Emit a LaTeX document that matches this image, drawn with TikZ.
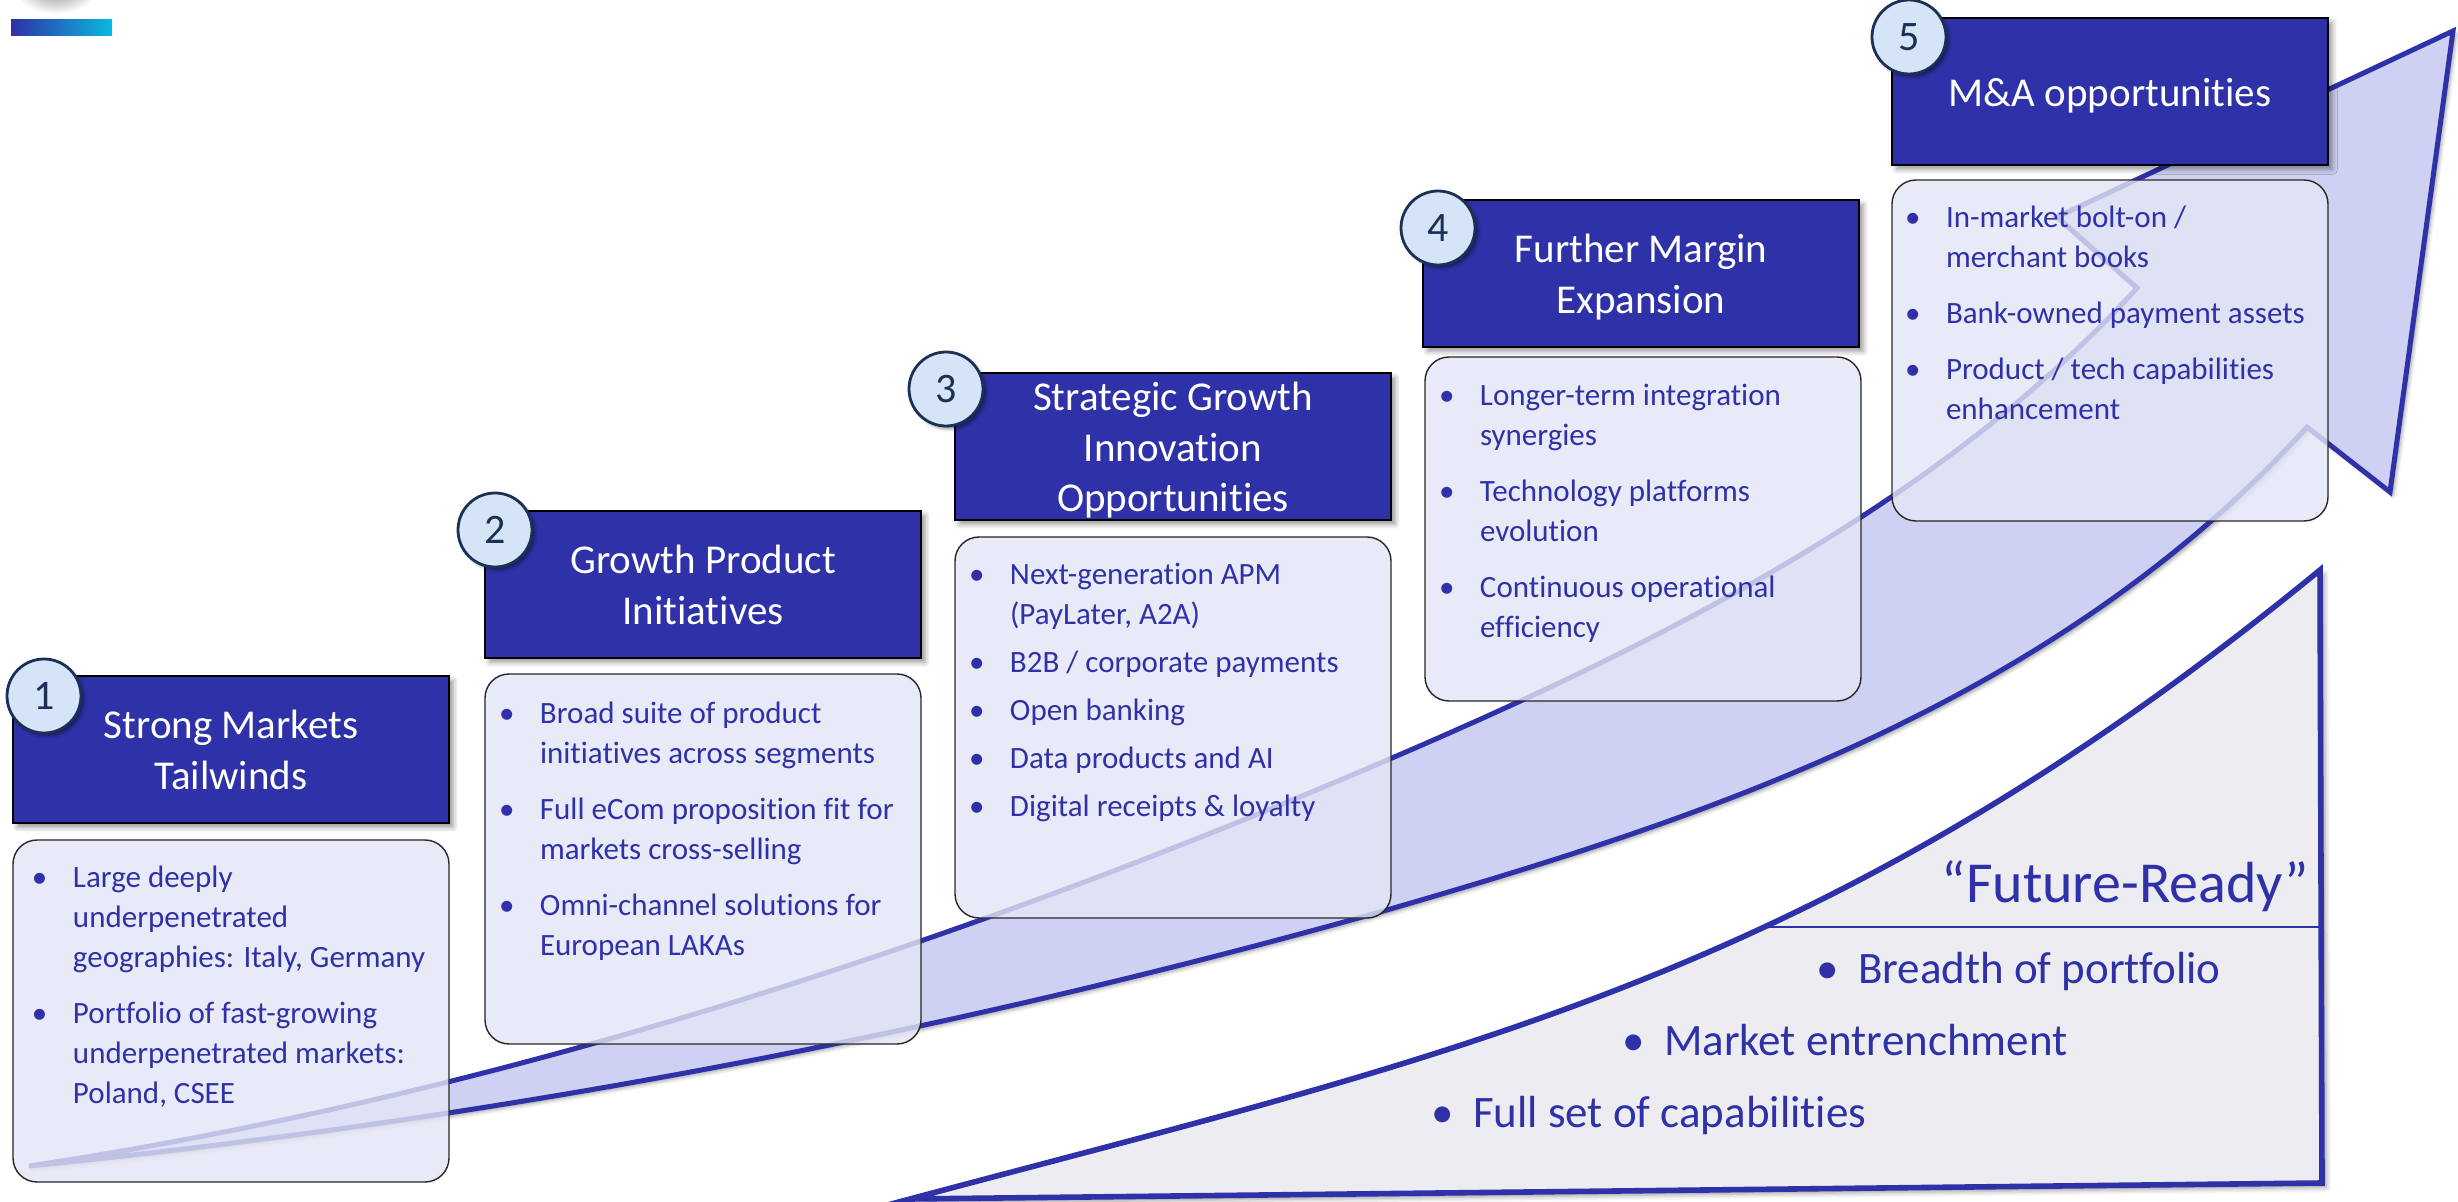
\documentclass[tikz,border=0pt]{standalone}
\usepackage{fontspec}
\setmainfont{Carlito}[Ligatures={TeX,NoCommon}]
\usetikzlibrary{shadows.blur}

\definecolor{brand}{RGB}{46,49,168}
\definecolor{bandfill}{RGB}{206,209,241}
\definecolor{cardfill}{RGB}{228,229,245}
\definecolor{numfill}{RGB}{214,228,247}
\definecolor{numline}{RGB}{27,48,84}
\definecolor{trifill}{RGB}{237,237,241}
\definecolor{cyanend}{RGB}{10,185,222}

% bullet lists inside the cards
\newlength\bulind
\setlength\bulind{20.5pt}
\newcommand\bitem[1]{\par\hangindent=\bulind\hangafter=1\noindent\makebox[\bulind][l]{\textbullet}#1}
\newcommand\cardtext[2]{\parbox[t]{240pt}{\raggedright\let\\\newline\fontsize{15.5pt}{20pt}\selectfont\setlength\parskip{#1}#2}}
\newcommand\headtext[1]{\parbox[t]{214pt}{\centering\fontsize{20.5pt}{25.25pt}\selectfont #1}}

\begin{document}
\begin{tikzpicture}[x=0.5pt,y=-0.5pt,
  every node/.style={inner sep=0pt,outer sep=0pt},
  softshadow/.style={blur shadow={shadow xshift=2.2pt,shadow yshift=-2.2pt,shadow blur radius=2.5pt,shadow opacity=40}},
  hdr/.style={draw=black,line width=0.8pt,fill=brand,minimum width=218pt,minimum height=73.5pt,anchor=north west,softshadow},
  card/.style={draw=black!85,line width=0.7pt,fill=cardfill,fill opacity=0.8,rounded corners=12pt,minimum width=218pt,anchor=north west},
  numdot/.style={circle,minimum size=37pt,fill=numfill,draw=numline,line width=1.4pt,text=numline,font=\fontsize{21pt}{21pt}\selectfont,
    blur shadow={shadow xshift=1.5pt,shadow yshift=-1.5pt,shadow blur radius=1.5pt,shadow opacity=45}},
  headlabel/.style={text=white,anchor=base},
  cardlabel/.style={text=brand,anchor=base west},
  trilabel/.style={text=brand,anchor=base west,font=\fontsize{22.5pt}{27pt}\selectfont}]

\useasboundingbox (0,0) rectangle (2458,1202);

% title decorations at the top edge
\shade[inner color=black!45,outer color=white] (56,-12) ellipse (42 and 26);
\shade[left color=brand,right color=cyanend] (11,20) rectangle (112,36);

% "Future-Ready" curved triangle
\path[draw=brand,line width=2.8pt,fill=trifill,line join=miter,softshadow]
  (910,1199) .. controls (1460,1052) and (1820,980) .. (2320,570) -- (2322,1183) -- cycle;
\begin{scope}
  \clip (910,1199) .. controls (1460,1052) and (1820,980) .. (2320,570) -- (2322,1183) -- cycle;
  \coordinate (divL) at (1650,927);
  \coordinate (divR) at (2330,927);
  \draw[brand,line width=1.1pt] (divL) -- (divR);
\end{scope}

% rising curved arrow
\path[draw=brand,line width=2.5pt,fill=bandfill,line join=miter,
      blur shadow={shadow xshift=1.6pt,shadow yshift=-1.6pt,shadow blur radius=2pt,shadow opacity=40}]
  (29,1166) .. controls (479,1098.5) and (942,951.5) .. (1392,758)
  .. controls (1642,650.5) and (1937,508) .. (2137,288)
  -- (2057,217) -- (2453,31) -- (2390,492) -- (2307,427)
  .. controls (2047,713) and (1680,825) .. (1380,912)
  .. controls (930,1038) and (479,1121) .. (29,1166) -- cycle;

% step headers
\node[hdr] (h1) at (13,676) {};
\node[hdr] (h2) at (485,511) {};
\node[hdr] (h3) at (955,373) {};
\node[hdr] (h4) at (1423,200) {};
\node[hdr] (h5) at (1892,18) {};

% step cards
\node[card,minimum height=171pt] (c1) at (13,840) {};
\node[card,minimum height=185pt] (c2) at (485,674) {};
\node[card,minimum height=190.5pt] (c3) at (955,537) {};
\node[card,minimum height=172pt] (c4) at (1425,357) {};
\node[card,minimum height=170.5pt] (c5) at (1892,180) {};

% step numbers
\node[numdot] (n1) at (44,696) {1};
\node[numdot] (n2) at (495,530) {2};
\node[numdot] (n3) at (946,389) {3};
\node[numdot] (n4) at (1438,228) {4};
\node[numdot] (n5) at (1909,37) {5};

% header titles
\node[headlabel] (h1t) at (231,739) {\headtext{Strong Markets\\Tailwinds}};
\node[headlabel] (h2t) at (703,574) {\headtext{Growth Product\\Initiatives}};
\node[headlabel] (h3t) at (1173,411) {\headtext{Strategic Growth\\Innovation\\Opportunities}};
\node[headlabel] (h4t) at (1641,263) {\headtext{Further Margin\\Expansion}};
\node[headlabel] (h5t) at (2110,107) {\headtext{M\&A opportunities}};

% card contents
\node[cardlabel] (c1t) at (32,887) {\cardtext{8pt}{%
  \bitem{Large deeply\\underpenetrated\\geographies: Italy, Germany}
  \bitem{Portfolio of fast-growing\\underpenetrated markets:\\Poland, CSEE}}};
\node[cardlabel] (c2t) at (499,724) {\cardtext{8pt}{%
  \bitem{Broad suite of product\\initiatives across segments}
  \bitem{Full eCom proposition fit for\\markets cross-selling}
  \bitem{Omni-channel solutions for\\European LAKAs}}};
\node[cardlabel] (c3t) at (969,585) {\cardtext{4pt}{%
  \bitem{Next-generation APM\\(PayLater, A2A)}
  \bitem{B2B / corporate payments}
  \bitem{Open banking}
  \bitem{Data products and AI}
  \bitem{Digital receipts \& loyalty}}};
\node[cardlabel] (c4t) at (1439,406) {\cardtext{8pt}{%
  \bitem{Longer-term integration\\synergies}
  \bitem{Technology platforms\\evolution}
  \bitem{Continuous operational\\efficiency}}};
\node[cardlabel] (c5t) at (1905,228) {\cardtext{8pt}{%
  \bitem{In-market bolt-on /\\merchant books}
  \bitem{Bank-owned payment assets}
  \bitem{Product / tech capabilities\\enhancement}}};

% triangle texts
\node[anchor=base east,text=brand,font=\fontsize{29pt}{29pt}\selectfont] (fr) at (2309,902) {“Future-Ready”};
\node[trilabel] (q1) at (1816,983) {\makebox[21pt][l]{\textbullet}Breadth of portfolio};
\node[trilabel] (q2) at (1622,1055) {\makebox[21pt][l]{\textbullet}Market entrenchment};
\node[trilabel] (q3) at (1431,1127) {\makebox[21pt][l]{\textbullet}Full set of capabilities};

\end{tikzpicture}
\end{document}
